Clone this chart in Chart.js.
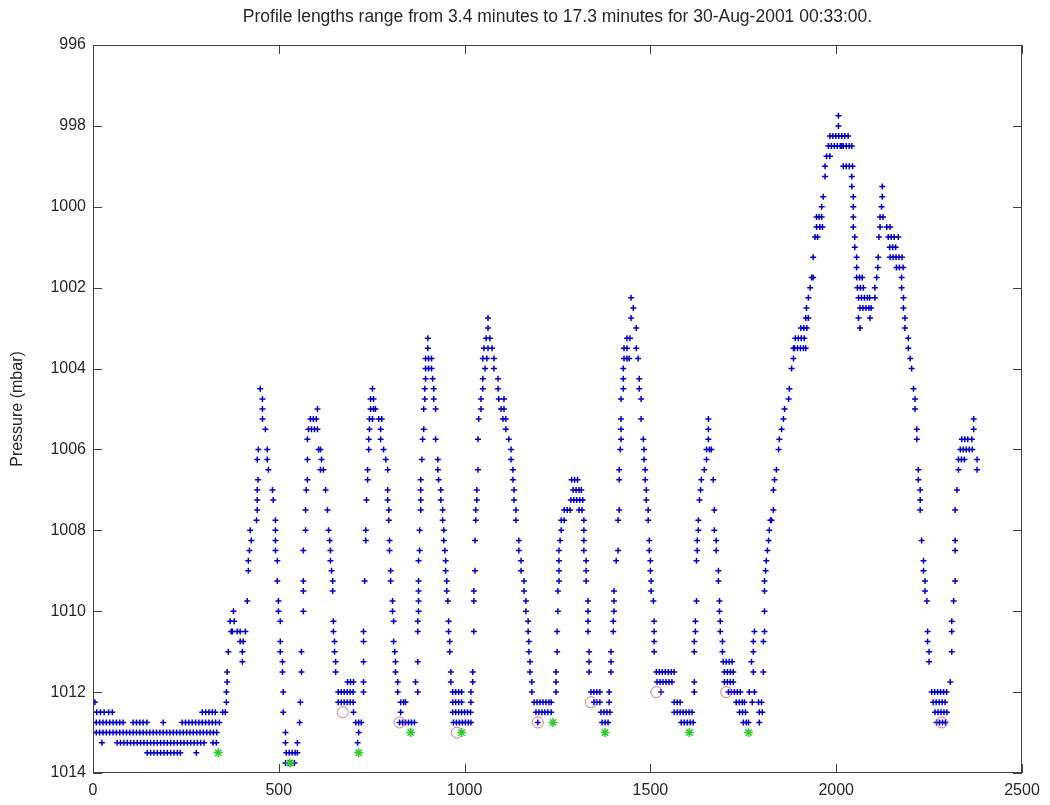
<!DOCTYPE html>
<html>
<head>
<meta charset="utf-8">
<title>Pressure record</title>
<script src="https://cdn.jsdelivr.net/npm/chart.js@4.4.1/dist/chart.umd.min.js"></script>
<style>
  html, body { margin: 0; padding: 0; background: #fff; overflow: hidden; }
  canvas { display: block; }
</style>
</head>
<body>
<canvas id="chart" width="1050" height="805"></canvas>
<script>
const chartTitle = 'Profile lengths range from 3.4 minutes to 17.3 minutes for 30-Aug-2001 00:33:00.';
const yLabel = 'Pressure (mbar)';
const sampleTicks = [0, 500, 1000, 1500, 2000, 2500];
const pressureTicks = [996, 998, 1000, 1002, 1004, 1006, 1008, 1010, 1012, 1014];

// [sample, mbar] pairs, pressure quantised to 0.25 mbar
const idle = [
  [5,1012.25],
  [0,1012.5],[10,1012.5],[20,1012.5],[30,1012.5],[42,1012.5],[52,1012.5],[294,1012.5],[303,1012.5],[312,1012.5],[321,1012.5],[329,1012.5],[349,1012.5],
  [0,1012.75],[9,1012.75],[18,1012.75],[27,1012.75],[36,1012.75],[45,1012.75],[54,1012.75],[63,1012.75],[72,1012.75],[81,1012.75],
  [108,1012.75],[117,1012.75],[126,1012.75],[135,1012.75],[145,1012.75],[189,1012.75],
  [240,1012.75],[249,1012.75],[258,1012.75],[267,1012.75],[276,1012.75],[285,1012.75],[294,1012.75],[303,1012.75],[312,1012.75],[321,1012.75],[330,1012.75],[340,1012.75],
  [0,1013],[9,1013],[18,1013],[27,1013],[36,1013],[45,1013],[54,1013],[63,1013],[72,1013],[81,1013],[90,1013],[99,1013],[108,1013],
  [117,1013],[126,1013],[135,1013],[144,1013],[153,1013],[162,1013],[171,1013],[180,1013],[189,1013],[198,1013],[207,1013],[216,1013],
  [225,1013],[234,1013],[243,1013],[252,1013],[261,1013],[270,1013],[279,1013],[288,1013],[297,1013],[306,1013],[315,1013],[324,1013],[333,1013],
  [24,1013.25],[65,1013.25],[74,1013.25],[83,1013.25],[92,1013.25],[101,1013.25],[110,1013.25],[119,1013.25],[128,1013.25],[137,1013.25],
  [146,1013.25],[155,1013.25],[164,1013.25],[173,1013.25],[182,1013.25],[191,1013.25],[200,1013.25],[209,1013.25],[218,1013.25],[227,1013.25],
  [236,1013.25],[245,1013.25],[254,1013.25],[263,1013.25],[272,1013.25],[281,1013.25],[290,1013.25],[299,1013.25],[323,1013.25],[332,1013.25],
  [146,1013.5],[155,1013.5],[164,1013.5],[173,1013.5],[182,1013.5],[191,1013.5],[200,1013.5],[209,1013.5],[218,1013.5],[227,1013.5],[235,1013.5],[278,1013.5]
];

const cycle1 = [
  [356,1012.5],[359,1012.25],[359,1012],[361,1011.75],[361,1011.5],[364,1011],[369,1010.25],[372,1010.5],[375,1010.5],[378,1010],[380,1010.25],
  [388,1010.5],[396,1010.5],[396,1010.75],[402,1011],[402,1011.25],[404,1010.75],[410,1010.5],[415,1009.75],[418,1009],[418,1008.75],
  [421,1008.5],[423,1008],[426,1008.25],[440,1007.75],[442,1007.5],[442,1007.25],[442,1007],[444,1006.75],[442,1006.25],[445,1006],
  [450,1004.5],[456,1004.75],[456,1005],[456,1005.25],
  [464,1005.5],[469,1006],[469,1006.25],[472,1006.5],[483,1007],[485,1007.25],[491,1007.75],[491,1008],[491,1008.25],[491,1008.5],
  [496,1008.75],[496,1009.25],[499,1009.75],[499,1010],[504,1010.25],[504,1010.75],[504,1011],[510,1011.25],[510,1011.5],[512,1012],
  [512,1012.5],[518,1013],[518,1013.25],[520,1013.5],[528,1013.5],[536,1013.5],[544,1013.5],[550,1013.5],
  [518,1013.75],[526,1013.75],[534,1013.75],[542,1013.75]
];

const cycle2 = [
  [550,1013.25],[556,1012.75],[558,1012.25],[561,1011.5],[561,1011],[566,1010],[566,1009.5],[566,1009.25],[566,1008.5],[572,1008],
  [572,1007.5],[574,1007],[577,1006.75],[577,1006.25],[577,1005.75],[580,1005.5],[585,1005.25],[588,1005.5],[593,1005.25],[596,1005.5],
  [601,1005.25],[604,1005],[604,1005.5],
  [607,1006],[612,1006],[615,1006.25],[612,1006.5],[620,1006.5],[626,1007],[631,1007.5],[634,1008],[637,1008.25],[639,1008.5],
  [639,1008.75],[642,1009],[645,1009.25],[645,1009.5],[647,1010.25],[647,1010.5],[650,1010.75],[650,1011],[653,1011.25],[653,1011.5],
  [685,1011.75],[693,1011.75],[701,1011.75],
  [660,1012],[668,1012],[676,1012],[684,1012],[692,1012],[700,1012],
  [660,1012.25],[668,1012.25],[676,1012.25],[684,1012.25],[692,1012.25],[700,1012.25],
  [701,1012.5],[707,1012.75],[715,1012.75],[722,1012.75],[715,1013],[712,1013.25]
];

const cycle3 = [
  [728,1012],[728,1011.75],[728,1011.25],[728,1010.75],[728,1010.5],[731,1009.25],[734,1008.25],[734,1008],[736,1007.25],[739,1006.75],
  [739,1006.5],[742,1006],[742,1005.75],[744,1005.5],[744,1005.25],[747,1005],[747,1004.75],[752,1004.5],[752,1005.25],[755,1005],
  [755,1004.75],[760,1005],
  [769,1005.25],[774,1005.5],[774,1005.75],[777,1005.25],[782,1006],[788,1006.25],[793,1006.5],[793,1007],[793,1007.25],[796,1007.5],
  [796,1007.75],[798,1008.25],[798,1008.5],[801,1009],[801,1009.25],[806,1009.75],[806,1010],[809,1010.25],[809,1010.75],[812,1011],
  [814,1011.25],[814,1011.5],[820,1011.75],[820,1012],[828,1012.25],[836,1012.25],[841,1012.25],[828,1012.5],
  [825,1012.75],[833,1012.75],[841,1012.75],[849,1012.75],[857,1012.75],[865,1012.75]
];

const cycle4 = [
  [868,1011.75],[874,1012],[874,1011.25],[874,1010.5],[874,1010.25],[876,1010],[876,1009.75],[876,1009.5],[876,1009.25],[876,1008.75],
  [879,1008.5],[879,1008],[882,1007.5],[882,1007.25],[882,1007],[882,1006.75],[885,1006.25],[887,1005.75],[890,1005.5],[890,1005],
  [893,1004.75],[893,1004.5],[895,1004.25],[895,1004],[895,1003.75],[901,1003.5],[901,1003.25],[903,1004],[903,1003.75],[911,1004],[911,1003.75],
  [914,1004.25],[917,1004.5],[917,1004.75],[922,1005],[922,1005.75],[928,1006.25],[928,1006.5],[930,1006.75],[936,1007],[936,1007.25],
  [941,1007.5],[941,1007.75],[944,1008],[944,1008.25],[947,1008.5],[949,1008.75],[949,1009],[952,1009.25],[952,1009.5],[955,1009.75],
  [957,1010.25],[957,1010.5],[960,1010.75],[960,1011],[963,1011.5],[963,1011.75],
  [968,1012],[976,1012],[984,1012],[992,1012],
  [968,1012.25],[976,1012.25],[984,1012.25],[992,1012.25],
  [968,1012.5],[976,1012.5],[984,1012.5],[992,1012.5],[1000,1012.5],[1008,1012.5],[1016,1012.5],
  [970,1012.75],[978,1012.75],[986,1012.75],[994,1012.75],[1002,1012.75],[1010,1012.75],[1017,1012.75]
];

const cycle5 = [
  [1017,1012],[1017,1012.25],[1022,1011.5],[1022,1011.75],[1025,1010.5],[1025,1009.75],[1025,1009.5],[1028,1009],[1028,1008.25],[1030,1007.5],
  [1030,1007.75],[1033,1007],[1033,1007.25],[1036,1006.5],[1036,1005.75],[1038,1005.25],[1044,1004.75],[1044,1005],[1049,1004.25],[1049,1004.5],
  [1049,1003.75],[1055,1004],[1060,1003.75],[1052,1003.5],[1058,1003.25],[1063,1003.5],[1068,1003.25],[1074,1003.5],[1063,1003],[1063,1002.75],
  [1079,1003.75],[1079,1004],[1090,1004.25],[1090,1004.5],[1092,1004.75],[1098,1005],[1106,1005],[1106,1004.75],[1103,1005.25],[1111,1005.5],
  [1111,1005.25],[1119,1005.75],[1125,1006],[1125,1006.25],[1130,1006.5],[1130,1006.75],[1133,1007],[1133,1007.25],[1138,1007.5],[1138,1007.75],
  [1146,1008.25],[1146,1008.5],[1152,1008.75],[1152,1009],[1160,1009.25],[1160,1009.5],[1165,1009.75],[1165,1010],[1171,1010.25],[1171,1010.5],
  [1173,1010.75],[1173,1011],[1176,1011.25],[1176,1011.5],[1181,1011.75],[1181,1012],
  [1187,1012.25],[1195,1012.25],[1203,1012.25],[1211,1012.25],[1219,1012.25],[1227,1012.25],[1233,1012.25],
  [1192,1012.5],[1200,1012.5],[1208,1012.5],[1216,1012.5],[1224,1012.5],[1233,1012.5],[1197,1012.75]
];

const cycle6 = [
  [1246,1012],[1246,1011.75],[1246,1011.5],[1249,1011],[1249,1010.5],[1251,1010],[1251,1009.5],[1254,1009.25],[1254,1009],[1254,1008.75],
  [1254,1008.5],[1257,1008.25],[1260,1008],[1260,1007.75],[1268,1007.75],[1268,1007.5],[1276,1007.5],[1284,1007.5],
  [1286,1007.25],[1294,1007.25],[1302,1007.25],[1310,1007.25],[1318,1007.25],
  [1292,1007],[1300,1007],[1308,1007],[1314,1007],
  [1288,1006.75],[1296,1006.75],[1304,1006.75],
  [1308,1007.5],[1316,1007.5],[1321,1007.75],[1321,1008],[1321,1008.25],[1321,1008.5],[1327,1008.75],[1327,1009],[1327,1009.25],[1332,1009.75],
  [1332,1010],[1332,1010.25],[1332,1010.5],[1335,1011],[1335,1011.25],[1335,1011.5],
  [1340,1012],[1348,1012],[1356,1012],[1364,1012],
  [1348,1012.25],[1356,1012.25],[1364,1012.25],
  [1367,1012.5],[1375,1012.5],[1383,1012.5],[1391,1012.5],
  [1370,1012.75],[1378,1012.75],[1386,1012.75]
];

const cycle7 = [
  [1389,1012],[1389,1012.25],[1394,1011.25],[1394,1011.5],[1394,1011],[1400,1010.25],[1400,1010.5],[1402,1010],[1402,1009.75],[1402,1009.5],
  [1408,1008.75],[1413,1008.5],[1413,1007.75],[1416,1007.5],[1416,1006.5],[1416,1006.75],[1419,1006],[1421,1005.75],[1421,1005.5],[1421,1005.25],
  [1421,1004.75],[1427,1004.5],[1427,1004.25],[1427,1004],[1429,1003.75],[1437,1003.75],[1443,1003.75],[1429,1003.5],[1437,1003.5],[1437,1003.25],
  [1445,1003.25],[1448,1002.75],[1454,1002.5],[1448,1002.25],
  [1462,1003],[1462,1003.5],[1467,1003.75],[1470,1004.25],[1470,1004.5],[1475,1004.75],[1475,1005.25],[1481,1005.75],[1483,1006],[1483,1006.25],
  [1486,1006.5],[1486,1006.75],[1489,1007],[1489,1007.25],[1494,1007.5],[1494,1007.75],[1497,1008.25],[1497,1008.5],[1500,1008.75],[1500,1009],
  [1502,1009.25],[1502,1009.5],[1508,1009.75],[1510,1010.25],[1510,1010.5],[1510,1010.75],[1510,1011],
  [1516,1011.5],[1524,1011.5],[1532,1011.5],[1540,1011.5],[1548,1011.5],[1556,1011.5],[1564,1011.5],
  [1518,1011.75],[1526,1011.75],[1534,1011.75],[1542,1011.75],[1550,1011.75],[1558,1011.75],
  [1529,1012],[1564,1012.25],[1572,1012.25],[1580,1012.25],
  [1564,1012.5],[1572,1012.5],[1580,1012.5],[1588,1012.5],[1596,1012.5],[1604,1012.5],[1612,1012.5],
  [1583,1012.75],[1591,1012.75],[1599,1012.75],[1607,1012.75],[1615,1012.75]
];

const cycle8 = [
  [1618,1012],[1618,1011.75],[1618,1011],[1618,1010.75],[1621,1010.25],[1621,1010.5],[1624,1009.75],[1624,1008.75],[1626,1008.25],[1626,1008.5],
  [1629,1007.75],[1629,1008],[1632,1007.25],[1635,1007],[1637,1006.75],[1645,1006.5],[1651,1006.25],[1651,1006],[1659,1006],[1664,1006],
  [1656,1005.75],[1656,1005.5],[1656,1005.25],
  [1669,1006.75],[1672,1007.5],[1672,1008],[1677,1008.25],[1677,1008.5],[1683,1009],[1683,1009.25],[1686,1009.75],[1686,1010],[1688,1010.25],
  [1688,1010.5],[1694,1010.75],[1694,1011],
  [1696,1011.25],[1704,1011.25],[1712,1011.25],[1720,1011.25],
  [1699,1011.5],[1707,1011.5],[1715,1011.5],[1723,1011.5],
  [1699,1011.75],[1707,1011.75],[1715,1011.75],[1723,1011.75],
  [1710,1012],[1718,1012],[1726,1012],[1734,1012],[1742,1012],
  [1731,1012.25],[1739,1012.25],[1747,1012.25],[1753,1012.25],
  [1740,1012.5],[1748,1012.5],[1756,1012.5],
  [1750,1012.75],[1758,1012.75],[1764,1012.75]
];

const cycle9 = [
  [1766,1012],[1774,1012.25],[1780,1012],[1772,1011.25],[1777,1011.5],[1777,1011],[1777,1010.75],[1780,1010.5],[1791,1012.25],[1799,1012.25],
  [1793,1012.5],[1801,1012.5],[1793,1012.75],
  [1804,1011.5],[1804,1010.75],[1807,1010.5],[1807,1010],[1807,1009.5],[1807,1009.25],[1810,1009],[1812,1008.75],[1815,1008.5],[1818,1008.25],
  [1820,1008],[1823,1007.75],[1826,1007.75],[1831,1007.5],[1831,1007],[1834,1006.75],[1839,1006.5],[1845,1006],[1847,1005.75],[1853,1005.5],
  [1858,1005.25],[1861,1005],[1872,1004.75],[1874,1004.5],[1880,1004],[1885,1003.75],[1885,1003.5],
  [1888,1003.5],[1896,1003.5],[1904,1003.5],[1912,1003.5],[1918,1003.5],
  [1890,1003.25],[1898,1003.25],[1906,1003.25],[1914,1003.25],
  [1905,1003],[1913,1003],[1921,1003],[1918,1002.75],[1925,1002.75],
  [1920,1002.5],[1925,1002.25],[1930,1002],[1934,1001.75],[1938,1001.75],[1938,1001.25],[1943,1000.75],[1950,1000.75],[1947,1000.5],
  [1947,1000.25],[1954,1000.25],[1961,1000.25],[1956,1000.5],[1963,1000.5],
  [1961,1000],[1965,999.75],[1970,999.25],[1970,999],[1974,998.75],[1983,998.75],
  [1979,998.5],[1987,998.5],[1995,998.5],[2003,998.5],[2011,998.5],[2015,998.5],
  [1983,998.25],[1991,998.25],[1999,998.25],[2007,998.25],[2015,998.25],[2023,998.25],[2032,998.25],
  [2006,998],[2006,997.75],
  [2019,998.5],[2027,998.5],[2035,998.5],[2042,998.5],
  [2019,999],[2027,999],[2035,999],[2044,999],
  [2042,999.25],[2042,999.5],[2046,999.75],[2046,1000],[2046,1000.25],[2046,1000.5],[2050,1000.75],[2050,1001],[2055,1001.25],[2055,1001.5],
  [2055,1001.75],[2063,1001.75],[2070,1001.75],[2057,1002],[2065,1002],[2073,1002],
  [2060,1002.25],[2068,1002.25],[2076,1002.25],[2084,1002.25],[2090,1002.25],
  [2064,1002.5],[2072,1002.5],[2080,1002.5],[2088,1002.5],[2094,1002.5],
  [2060,1002.75],[2064,1003],[2091,1002.75]
];

const cycle10 = [
  [2104,1002],[2104,1002.25],[2109,1001.75],[2112,1001.5],[2113,1001.25],[2115,1000.75],[2118,1000.5],[2118,1000.25],[2126,1000.25],[2122,1000],
  [2124,999.75],[2124,999.5],[2136,1000.5],[2145,1000.5],
  [2140,1000.75],[2148,1000.75],[2156,1000.75],[2167,1000.75],[2144,1001],[2152,1001],[2160,1001],
  [2145,1001.25],[2153,1001.25],[2161,1001.25],[2169,1001.25],[2177,1001.25],[2162,1001.5],[2170,1001.5],[2180,1001.5],
  [2176,1001.75],[2176,1002],[2181,1002.25],[2181,1002.5],[2185,1002.75],[2185,1003],[2194,1003.25],[2194,1003.5],[2199,1003.75],[2203,1004],
  [2208,1004.5],[2212,1004.75],[2212,1005],[2217,1005.5],[2217,1005.75],[2221,1006.5],[2221,1006.75],[2226,1007],[2226,1007.25],[2226,1007.5],
  [2230,1008.25],[2235,1008.75],[2235,1009],[2239,1009.25],[2239,1009.5],[2244,1009.75],[2246,1010.5],[2246,1010.75],[2250,1011],[2250,1011.25],
  [2257,1012],[2265,1012],[2273,1012],[2281,1012],[2289,1012],[2297,1012],
  [2261,1012.25],[2269,1012.25],[2277,1012.25],[2285,1012.25],[2293,1012.25],
  [2266,1012.5],[2274,1012.5],[2282,1012.5],[2290,1012.5],[2298,1012.5],
  [2270,1012.75],[2278,1012.75],[2286,1012.75],[2294,1012.75],
  [2307,1011.75],[2311,1011],[2311,1010.25],[2311,1010.5],[2316,1009.75],[2320,1009.25],[2320,1008.5],[2320,1008.25],[2320,1007.5],[2325,1007],
  [2329,1006.5],[2329,1006.25],[2337,1006.25],[2345,1006.25],
  [2334,1006],[2342,1006],[2350,1006],[2358,1006],[2366,1006],
  [2338,1005.75],[2346,1005.75],[2354,1005.75],[2365,1005.75],
  [2370,1005.5],[2370,1005.25],[2379,1006.25],[2379,1006.5]
];

// first sample of each upcast (red circles) and deepest point of each cast (green stars)
const upcastStart = [[672,1012.5],[825,1012.75],[979,1013],[1197,1012.75],[1340,1012.25],[1516,1012],[1704,1012],[2284,1012.75]];
const castBottom = [[337,1013.5],[530,1013.75],[715,1013.5],[855,1013],[992,1013],[1238,1012.75],[1378,1013],[1605,1013],[1764,1013]];

const toXY = (pts) => pts.map(([x, y]) => ({ x, y }));
const trace = [].concat(idle, cycle1, cycle2, cycle3, cycle4, cycle5, cycle6, cycle7, cycle8, cycle9, cycle10);

const FONT = "'Liberation Sans', Arial, Helvetica, sans-serif";
const INK = '#262626';
const plain = (v) => String(v);  // no thousands separator

// boxed axes with inward tick marks on all four sides
const axesBox = {
  id: 'axesBox',
  afterDatasetsDraw(chart) {
    const { ctx, chartArea: a, scales: { x, y } } = chart;
    const len = 9;
    ctx.save();
    ctx.strokeStyle = '#404040';
    ctx.lineWidth = 1;
    ctx.strokeRect(a.left + 0.5, a.top + 0.5, a.right - a.left - 1, a.bottom - a.top - 1);
    ctx.beginPath();
    x.ticks.forEach((t) => {
      const px = Math.round(x.getPixelForValue(t.value)) + 0.5;
      ctx.moveTo(px, a.bottom); ctx.lineTo(px, a.bottom - len);
      ctx.moveTo(px, a.top); ctx.lineTo(px, a.top + len);
    });
    y.ticks.forEach((t) => {
      const py = Math.round(y.getPixelForValue(t.value)) + 0.5;
      ctx.moveTo(a.left, py); ctx.lineTo(a.left + len, py);
      ctx.moveTo(a.right, py); ctx.lineTo(a.right - len, py);
    });
    ctx.stroke();
    ctx.restore();
  }
};

new Chart(document.getElementById('chart'), {
  type: 'scatter',
  data: {
    datasets: [
      {
        label: 'bottom',
        data: toXY(castBottom),
        pointStyle: 'star',
        pointRadius: 4.5,
        borderColor: '#2ecc2e',
        borderWidth: 1.6,
        backgroundColor: 'transparent',
        order: 1
      },
      {
        label: 'upcast start',
        data: toXY(upcastStart),
        pointStyle: 'circle',
        pointRadius: 5.5,
        borderColor: 'rgba(205, 70, 90, 0.75)',
        borderWidth: 1,
        backgroundColor: 'transparent',
        order: 2
      },
      {
        label: 'pressure',
        data: toXY(trace),
        pointStyle: 'cross',
        pointRadius: 3,
        borderColor: '#0000c8',
        borderWidth: 1.5,
        backgroundColor: '#0000c8',
        order: 3
      }
    ]
  },
  options: {
    responsive: false,
    animation: false,
    devicePixelRatio: 1,
    events: [],
    layout: { padding: { left: 0, right: 28, top: 0, bottom: 0 } },
    plugins: {
      legend: { display: false },
      tooltip: { enabled: false },
      title: {
        display: true,
        fullSize: false,  // centre over the plot box, not the canvas
        text: chartTitle,
        color: INK,
        font: { family: FONT, size: 17.5, weight: 'normal', lineHeight: 1.2 },
        padding: { top: 7, bottom: 17 }
      }
    },
    scales: {
      x: {
        type: 'linear',
        min: sampleTicks[0],
        max: sampleTicks[sampleTicks.length - 1],
        afterBuildTicks: (s) => { s.ticks = sampleTicks.map((v) => ({ value: v })); },
        afterFit: (s) => { s.height = 32; },
        grid: { display: false, drawTicks: false },
        border: { display: false },
        ticks: { color: INK, padding: 8, maxRotation: 0, callback: plain, font: { family: FONT, size: 16 } }
      },
      y: {
        type: 'linear',
        reverse: true,
        min: pressureTicks[0],
        max: pressureTicks[pressureTicks.length - 1],
        afterBuildTicks: (s) => { s.ticks = pressureTicks.map((v) => ({ value: v })); },
        afterFit: (s) => { s.width = 93; },
        grid: { display: false, drawTicks: false },
        border: { display: false },
        ticks: { color: INK, padding: 7, callback: plain, font: { family: FONT, size: 16 } },
        title: {
          display: true,
          text: yLabel,
          color: INK,
          font: { family: FONT, size: 16, weight: 'normal' },
          padding: { top: 8, bottom: 0 }
        }
      }
    }
  },
  plugins: [axesBox]
});
</script>
</body>
</html>
